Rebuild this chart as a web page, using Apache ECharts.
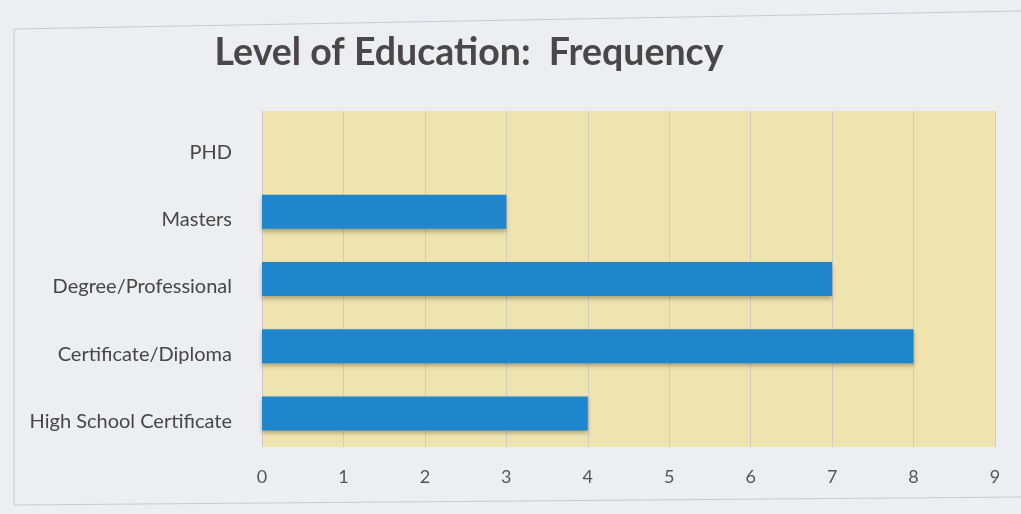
<!DOCTYPE html>
<html>
<head>
<meta charset="utf-8">
<script src="https://cdn.jsdelivr.net/npm/echarts@6/dist/echarts.min.js"></script>
<style>
  html, body { margin: 0; padding: 0; background: #eceef2; }
  #chart { width: 1021px; height: 514px; }
</style>
</head>
<body>
<div id="chart"></div>
<script>
// Education levels, listed bottom to top
const categories = ['High School Certificate', 'Certificate/Diploma', 'Degree/Professional', 'Masters', 'PHD'];
// Number of respondents at each level
const frequency = [4, 8, 7, 3, 0];
// Value axis ticks
const xTicks = [0, 1, 2, 3, 4, 5, 6, 7, 8, 9];

const chart = echarts.init(document.getElementById('chart'));

chart.setOption({
  backgroundColor: '#eceef2',
  animation: false,
  title: {
    text: 'Level of Education:  Frequency',
    left: 464,
    textAlign: 'center',
    top: 29,
    textStyle: {
      fontFamily: 'Lato',
      fontWeight: 'bold',
      fontSize: 37.5,
      color: '#4a4748'
    }
  },
  graphic: [{
    type: 'polyline',
    silent: true,
    shape: { points: [[1021, 11], [14, 29], [14, 505], [1021, 497]] },
    style: { stroke: '#c9cacf', lineWidth: 1, fill: null }
  }],
  grid: {
    left: 262,
    right: 26,
    top: 111,
    bottom: 67,
    show: true,
    backgroundColor: '#efe4b0',
    borderWidth: 0
  },
  xAxis: {
    type: 'value',
    min: xTicks[0],
    max: xTicks[xTicks.length - 1],
    interval: 1,
    axisLine: { show: false },
    axisTick: { show: false },
    splitLine: { show: true, lineStyle: { color: '#cfcbbf', width: 1 } },
    axisLabel: {
      margin: 21,
      fontFamily: 'Lato',
      fontSize: 18,
      color: '#555555',
      showMaxLabel: true,
      showMinLabel: true
    }
  },
  yAxis: {
    type: 'category',
    data: categories,
    axisLine: { show: false },
    axisTick: { show: false },
    splitLine: { show: false },
    axisLabel: {
      margin: 30,
      fontFamily: 'Lato',
      fontSize: 20,
      color: '#474546',
      verticalAlign: 'top',
      lineHeight: 16
    }
  },
  series: [{
    type: 'bar',
    data: frequency,
    barWidth: 34,
    itemStyle: {
      color: '#1f86cb',
      shadowColor: 'rgba(60,50,20,0.35)',
      shadowBlur: 4,
      shadowOffsetY: 3
    }
  }]
});
</script>
</body>
</html>
